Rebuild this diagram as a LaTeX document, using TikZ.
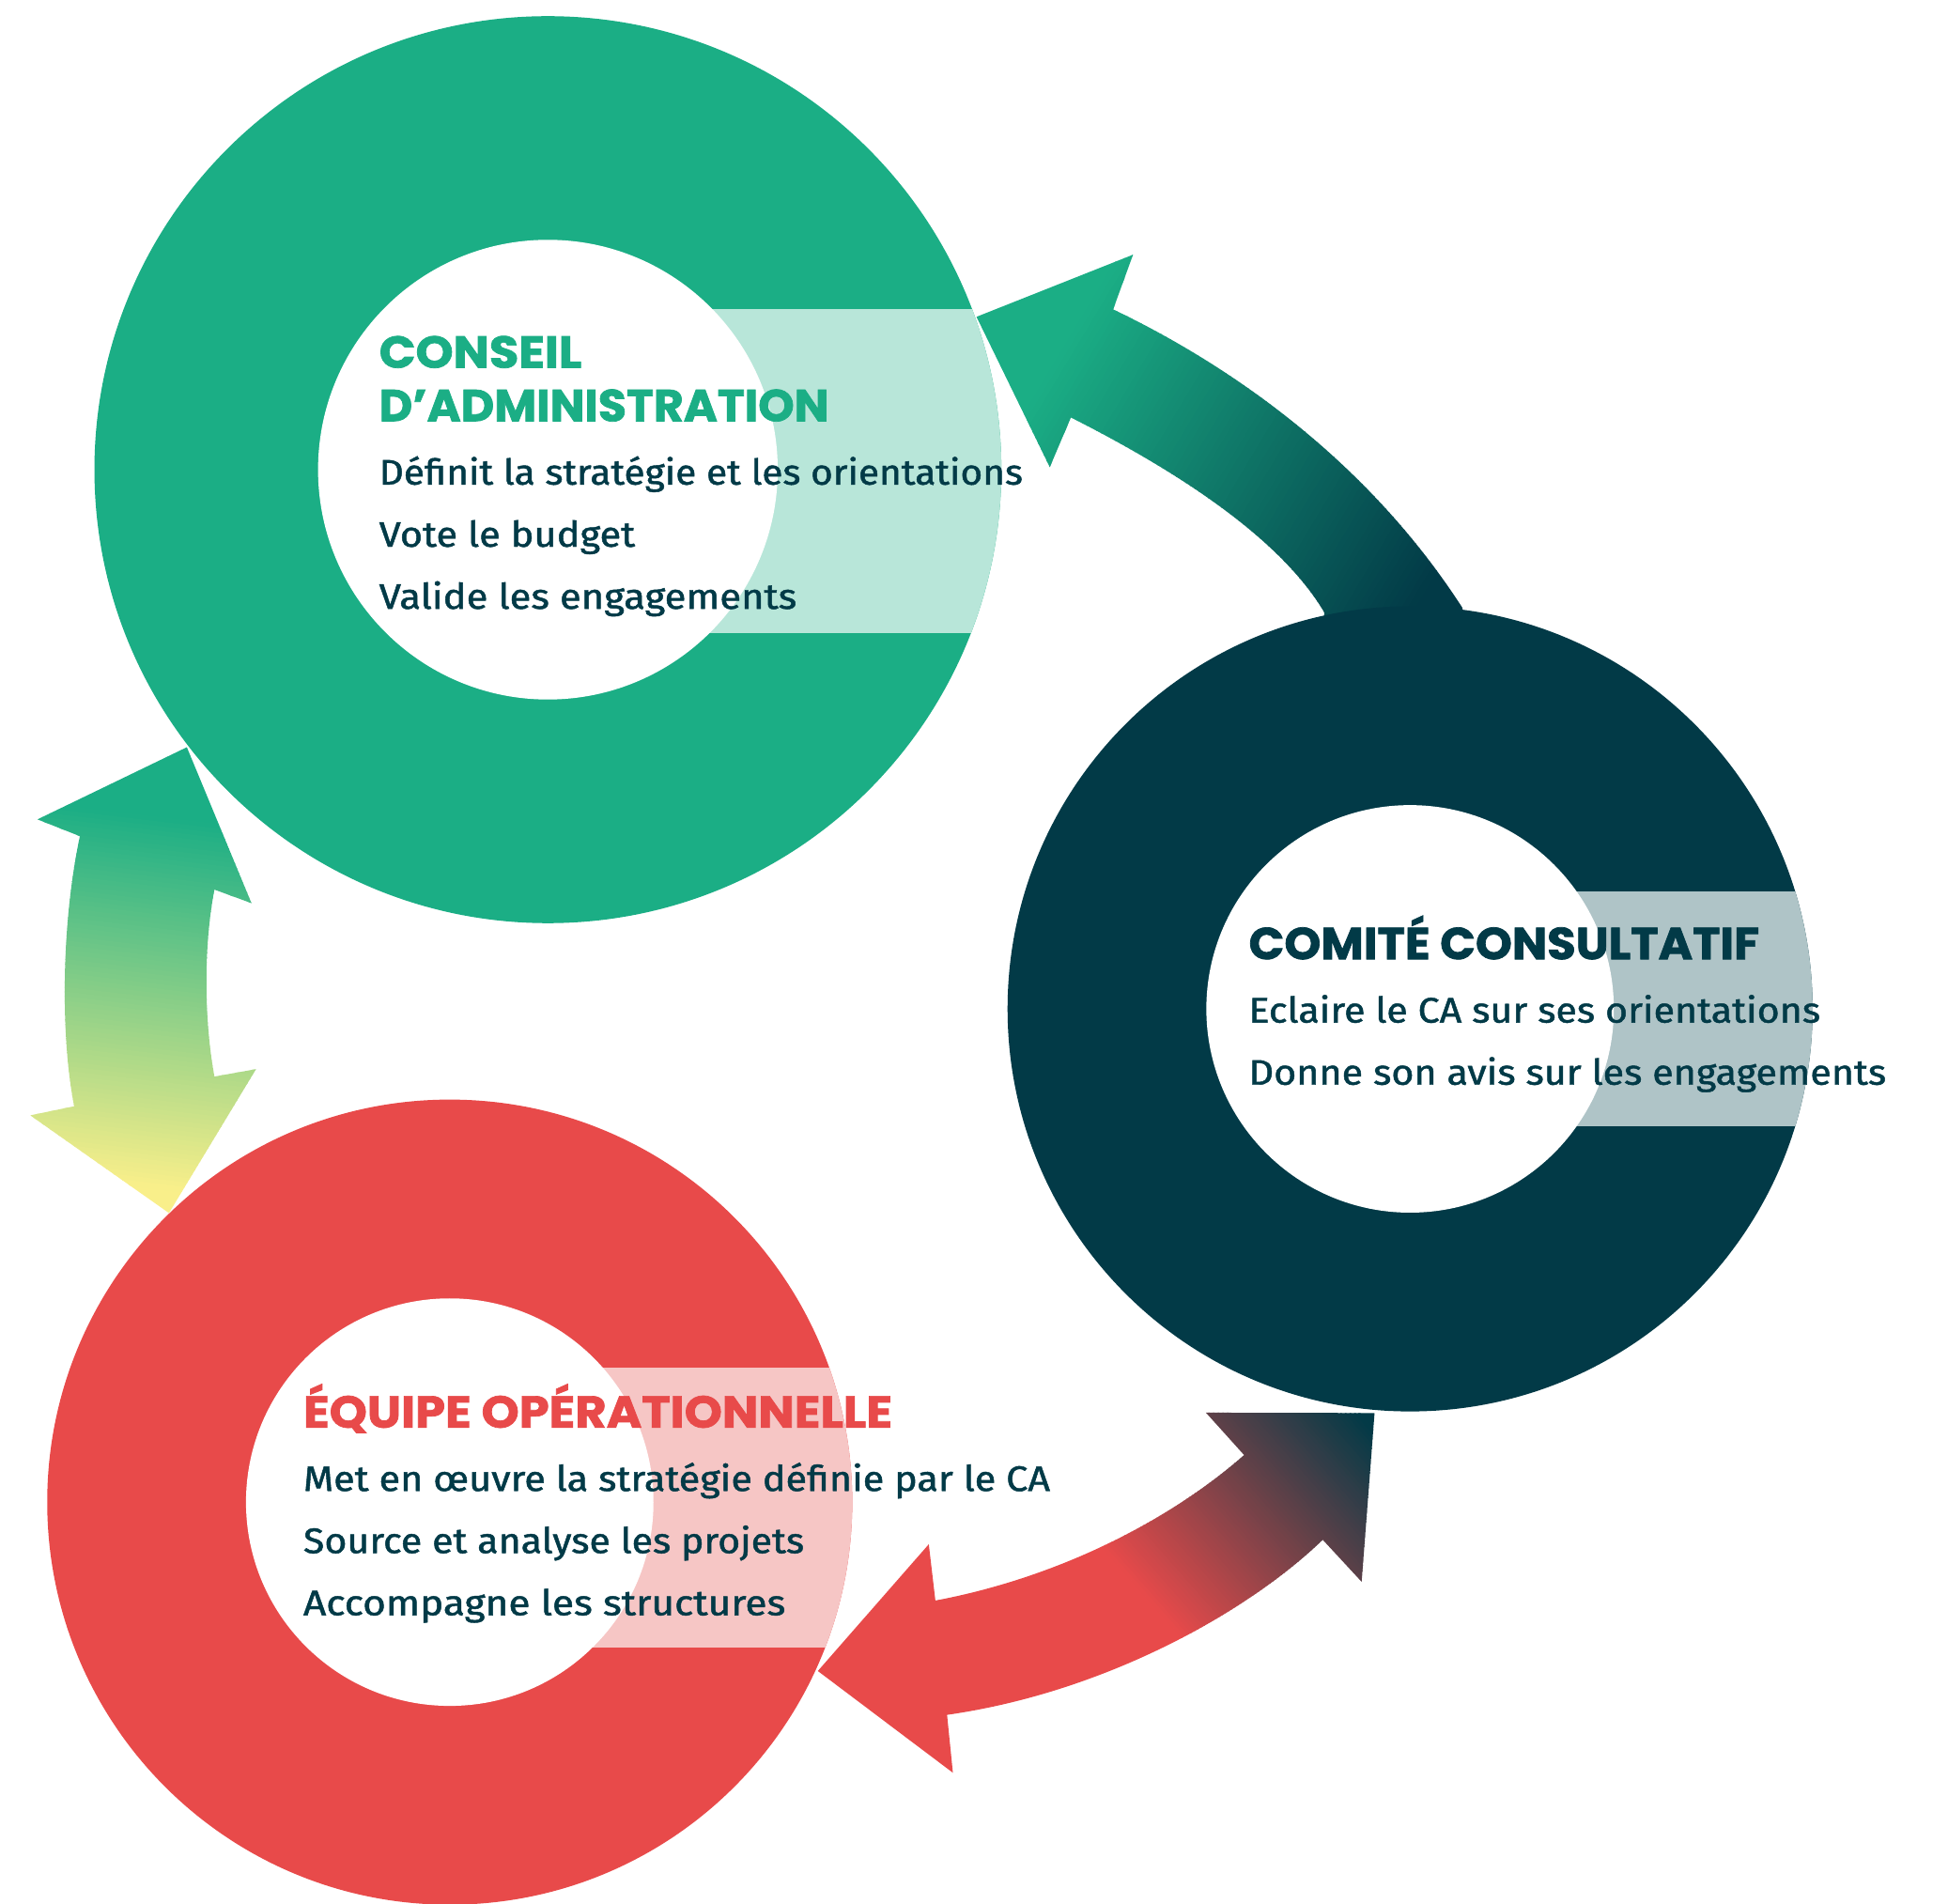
\documentclass[tikz,border=0pt]{standalone}
\usepackage{fontspec}
\setmainfont{Fira Sans}[FakeBold=1.2]
\newfontfamily\headfont{Poppins}[BoldFeatures={FakeBold=1.5}]
\usepackage{graphicx}
\definecolor{cagreen}{RGB}{27,174,133}
\definecolor{calightgreen}{RGB}{184,230,217}
\definecolor{cadark}{RGB}{2,58,71}
\definecolor{cadarklight}{RGB}{175,196,199}
\definecolor{cared}{RGB}{232,74,74}
\definecolor{calightred}{RGB}{246,198,197}
\definecolor{cayellow}{RGB}{249,239,138}

\newcommand\gradstripes[6]{%
  \pgfmathsetmacro\gdx{(#3-#1)/100}%
  \pgfmathsetmacro\gdy{(#4-#2)/100}%
  \pgfmathsetmacro\gang{atan2(-\gdy,\gdx)}%
  \pgfmathsetmacro\glen{100*veclen(\gdx,\gdy)}%
  \begin{scope}[shift={(#1,#2)},rotate=\gang]
    \fill[#5] (-2500,-2500) rectangle (0.5,2500);
    \fill[#6] (\glen-0.5,-2500) rectangle (2500,2500);
    \foreach \i in {0,...,79}{%
      \pgfmathsetmacro\pa{(\i/80)*\glen}%
      \pgfmathsetmacro\pb{((\i+1)/80)*\glen+0.8}%
      \pgfmathsetmacro\pc{(\i+0.5)*1.25}%
      \fill[#6!\pc!#5] (\pa,-2500) rectangle (\pb,2500);
    }
  \end{scope}}

\tikzset{
  headtext/.style={anchor=base west, inner sep=0pt, font=\headfont\bfseries\fontsize{36}{36}\selectfont},
  bodytext/.style={anchor=base west, inner sep=0pt, text=cadark, font=\fontsize{28.5}{28.5}\selectfont}
}

\begin{document}
\begin{tikzpicture}[x=1pt,y=-1pt]
\useasboundingbox (0,0) rectangle (1568,1531.8);

% ---- arrow: comite -> conseil (top right)
\begin{scope}
\clip (786,255) -- (912,205) -- (896,249) .. controls (990,294) and (1100,370) .. (1177,489)
  -- (1185,530) -- (1062,530) -- (1066,493) .. controls (1030,432) and (945,378) .. (862,336)
  -- (845,376) -- cycle;
\gradstripes{850}{290}{1150}{470}{cagreen}{cadark}
\end{scope}

% ---- arrow: conseil <-> equipe (left)
\begin{scope}
\clip (150.4,601.4) -- (202.4,726.9) -- (172.6,716) .. controls (164,760) and (164,820) .. (172.6,866.5)
  -- (206.1,860.5) -- (136,976.3) -- (24.4,897.7) -- (59.7,890.4)
  .. controls (48,830) and (50,740) .. (64.3,673) -- (30.2,659.5) -- cycle;
\gradstripes{150}{660}{115}{955}{cagreen}{cayellow}
\end{scope}

% ---- arrow: equipe <-> comite (bottom)
\begin{scope}
\clip (658.3,1344.9) -- (747.6,1242.9) -- (752.9,1288.2) .. controls (850,1270) and (940,1225) .. (1001.4,1171.1)
  -- (970.7,1137) -- (1106.4,1137.3) -- (1096,1273.1) -- (1064.7,1239.3)
  .. controls (1005,1297) and (890,1362) .. (762.3,1380.2) -- (767,1426.8) -- cycle;
\gradstripes{935}{1300}{1105}{1150}{cared}{cadark}
\end{scope}

% ---- rings
\coordinate (gC) at (441,378);
\fill[cagreen] (gC) circle (365);
\begin{scope}\clip (441,249) rectangle (900,509); \fill[calightgreen] (gC) circle (365); \end{scope}
\fill[white] (gC) circle (185);

\coordinate (dC) at (1135,812);
\fill[cadark] (dC) circle (324);
\begin{scope}\clip (1135,718) rectangle (1600,906); \fill[cadarklight] (dC) circle (324); \end{scope}
\fill[white] (dC) circle (164);

\coordinate (rC) at (362,1209);
\fill[cared] (rC) circle (324);
\begin{scope}\clip (362,1101) rectangle (800,1326); \fill[calightred] (rC) circle (324); \end{scope}
\fill[white] (rC) circle (164);

% ---- texts
\node[headtext,text=cagreen] (caTitleA) at (305,296) {\resizebox{163pt}{\height}{CONSEIL}};
\node[headtext,text=cagreen] (caTitleB) at (305,339) {\resizebox{362pt}{\height}{D’ADMINISTRATION}};
\node[bodytext] (caL1) at (305,390) {\resizebox{518pt}{\height}{Définit la stratégie et les orientations}};
\node[bodytext] (caL2) at (305,440) {\resizebox{206pt}{\height}{Vote le budget}};
\node[bodytext] (caL3) at (305,490) {\resizebox{336pt}{\height}{Valide les engagements}};

\node[headtext,text=cadark] (ccTitle) at (1005,772) {\resizebox{411pt}{\height}{COMITÉ CONSULTATIF}};
\node[bodytext] (ccL1) at (1005,823) {\resizebox{460pt}{\height}{Eclaire le CA sur ses orientations}};
\node[bodytext] (ccL2) at (1005,873) {\resizebox{513pt}{\height}{Donne son avis sur les engagements}};

\node[headtext,text=cared] (eqTitle) at (244,1149) {\resizebox{474pt}{\height}{ÉQUIPE OPÉRATIONNELLE}};
\node[bodytext] (eqL1) at (244,1200) {\resizebox{601pt}{\height}{Met en œuvre la stratégie définie par le CA}};
\node[bodytext] (eqL2) at (244,1250) {\resizebox{403pt}{\height}{Source et analyse les projets}};
\node[bodytext] (eqL3) at (244,1300) {\resizebox{388pt}{\height}{Accompagne les structures}};
\end{tikzpicture}
\end{document}
